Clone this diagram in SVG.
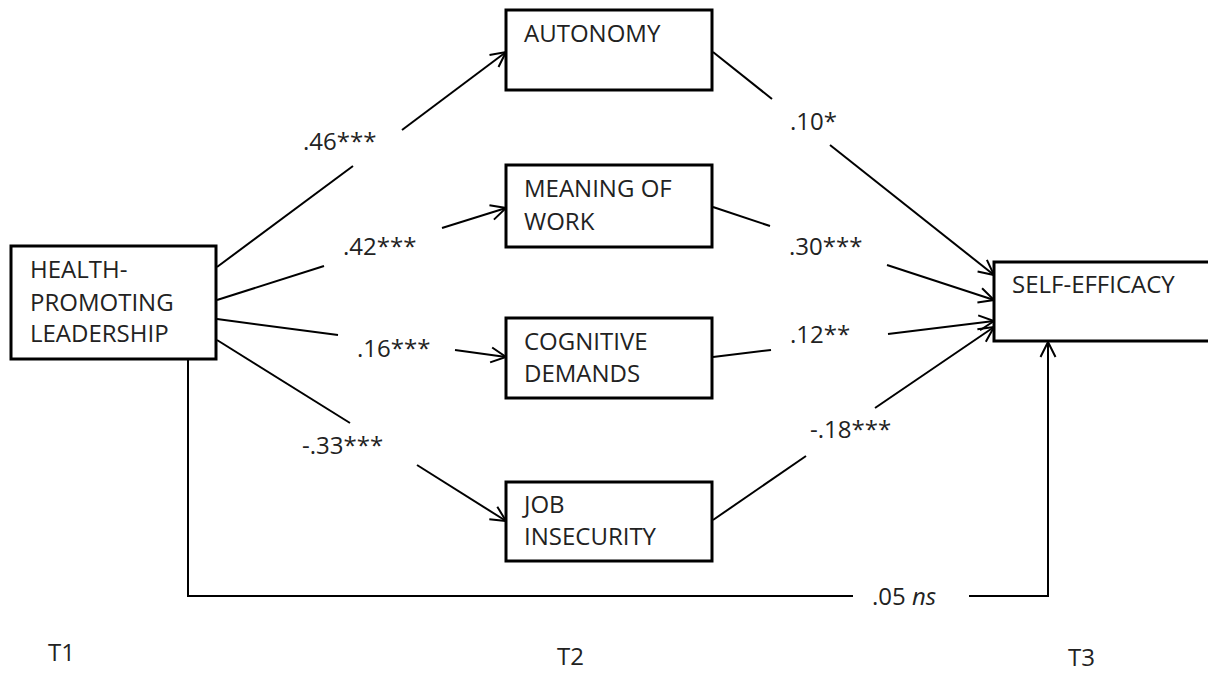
<svg xmlns="http://www.w3.org/2000/svg" width="1208" height="673" viewBox="0 0 1208 673">
  <defs>
    <style>
      .box { fill: #ffffff; stroke: #000000; stroke-width: 3; }
      .lbl { font-family: "Open Sans", "Liberation Sans", sans-serif; font-size: 24px; fill: #222222; }
      .path { fill: none; stroke: #000000; stroke-width: 2; }
    </style>
    <marker id="arrow" markerUnits="userSpaceOnUse" markerWidth="20" markerHeight="20" viewBox="-16 -10 20 20" refX="0" refY="0" orient="auto">
      <path d="M -15 -7.5 L 0 0 L -15 7.5" fill="none" stroke="#000000" stroke-width="2"/>
    </marker>
  </defs>
  <rect width="1208" height="673" fill="#ffffff"/>

  <!-- paths between constructs -->
  <g id="connectors" class="path">
    <line x1="217" y1="267" x2="353" y2="166"/>
    <line x1="402" y1="130" x2="506" y2="52" marker-end="url(#arrow)"/>
    <line x1="217" y1="300" x2="324" y2="266"/>
    <line x1="442" y1="228" x2="506" y2="208" marker-end="url(#arrow)"/>
    <line x1="217" y1="319" x2="338" y2="335"/>
    <line x1="455" y1="350" x2="506" y2="357" marker-end="url(#arrow)"/>
    <line x1="217" y1="340" x2="350" y2="423"/>
    <line x1="417" y1="465" x2="506" y2="521" marker-end="url(#arrow)"/>
    <line x1="713" y1="52" x2="772" y2="99"/>
    <line x1="830" y1="145" x2="994" y2="275" marker-end="url(#arrow)"/>
    <line x1="713" y1="207" x2="770" y2="226"/>
    <line x1="887" y1="265" x2="994" y2="300" marker-end="url(#arrow)"/>
    <line x1="713" y1="357" x2="771" y2="350"/>
    <line x1="888" y1="334" x2="994" y2="321" marker-end="url(#arrow)"/>
    <line x1="713" y1="520" x2="806" y2="456"/>
    <line x1="875" y1="408" x2="994" y2="327" marker-end="url(#arrow)"/>
    <polyline points="188,359 188,596 853,596"/>
    <polyline points="969,596 1048,596 1048,342" marker-end="url(#arrow)"/>
  </g>

  <!-- path coefficients -->
  <g id="coefficients" class="lbl">
    <text x="303" y="150">.46***</text>
    <text x="343" y="255">.42***</text>
    <text x="357" y="357">.16***</text>
    <text x="302" y="454">-.33***</text>
    <text x="790" y="130">.10*</text>
    <text x="789" y="255">.30***</text>
    <text x="790" y="343">.12**</text>
    <text x="810" y="438">-.18***</text>
    <text x="872" y="605">.05 <tspan font-style="italic">ns</tspan></text>
  </g>

  <g id="hpl">
    <rect class="box" x="11" y="246" width="205" height="113"/>
    <text class="lbl" x="30" y="278">HEALTH-</text>
    <text class="lbl" x="30" y="311">PROMOTING</text>
    <text class="lbl" x="30" y="342">LEADERSHIP</text>
  </g>

  <g id="autonomy">
    <rect class="box" x="506" y="10" width="206" height="80"/>
    <text class="lbl" x="524" y="42">AUTONOMY</text>
  </g>

  <g id="meaning">
    <rect class="box" x="506" y="165" width="206" height="82"/>
    <text class="lbl" x="524" y="197">MEANING OF</text>
    <text class="lbl" x="524" y="230">WORK</text>
  </g>

  <g id="cognitive">
    <rect class="box" x="506" y="318" width="206" height="80"/>
    <text class="lbl" x="524" y="350">COGNITIVE</text>
    <text class="lbl" x="524" y="382">DEMANDS</text>
  </g>

  <g id="insecurity">
    <rect class="box" x="506" y="482" width="206" height="79"/>
    <text class="lbl" x="524" y="513">JOB</text>
    <text class="lbl" x="524" y="545">INSECURITY</text>
  </g>

  <g id="selfefficacy">
    <rect class="box" x="994" y="262" width="230" height="79"/>
    <text class="lbl" x="1012" y="293">SELF-EFFICACY</text>
  </g>

  <!-- measurement waves -->
  <g id="waves" class="lbl">
    <text x="48" y="661">T1</text>
    <text x="557" y="665">T2</text>
    <text x="1068" y="666">T3</text>
  </g>
</svg>
